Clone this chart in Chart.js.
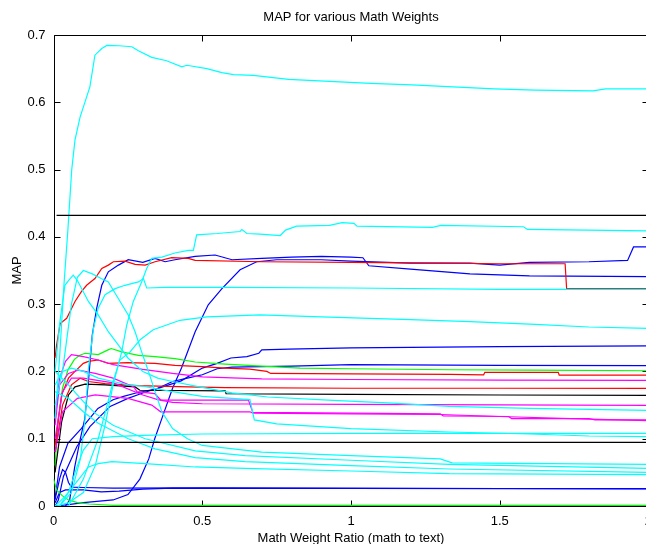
<!DOCTYPE html>
<html>
<head>
<meta charset="utf-8">
<script src="https://cdn.jsdelivr.net/npm/chart.js@4/dist/chart.umd.min.js"></script>
<style>
html,body{margin:0;padding:0;overflow:hidden;background:#fff;}
#wrap{width:670px;height:550px;}
</style>
</head>
<body>
<div id="wrap"><canvas id="c" width="670" height="550"></canvas></div>
<script>
// ---- axis ticks ----
const xTicks = [0, 0.5, 1, 1.5, 2];
const yTicks = [0, 0.1, 0.2, 0.3, 0.4, 0.5, 0.6, 0.7];

// ---- cyan series ----
const c1x = [0.005,0.02,0.035,0.048,0.061,0.072,0.089,0.106,0.122,0.139,0.162,0.179,0.22,0.263,0.285,0.33,0.38,0.431,0.448,0.515,0.566,0.605,0.672,0.79,0.928,1.066,1.205,1.343,1.482,1.62,1.814,1.856,2.0];
const c1y = [0.13,0.22,0.33,0.41,0.50,0.544,0.578,0.601,0.623,0.67,0.680,0.6845,0.684,0.6825,0.6765,0.6667,0.6617,0.6527,0.655,0.650,0.644,0.641,0.640,0.634,0.631,0.628,0.626,0.623,0.620,0.618,0.617,0.620,0.620];
const c2x = [0.01,0.05,0.1,0.14,0.173,0.2,0.229,0.246,0.268,0.296,0.313,0.33,0.364,0.408,0.453,0.47,0.481,0.55,0.627,0.633,0.65,0.694,0.762,0.78,0.817,0.928,0.97,1.01,1.02,1.274,1.302,1.58,1.593,2.0];
const c2y = [0.0,0.005,0.02,0.06,0.12,0.18,0.229,0.269,0.304,0.333,0.353,0.368,0.37,0.376,0.38,0.38,0.403,0.405,0.408,0.411,0.405,0.404,0.402,0.41,0.416,0.417,0.421,0.42,0.416,0.414,0.417,0.415,0.411,0.409];
const c3x = [0.02,0.06,0.09,0.106,0.117,0.134,0.15,0.173,0.207,0.24,0.285,0.302,0.313,0.375,0.577,1.0,1.5,2.0];
const c3y = [0.0,0.02,0.07,0.13,0.204,0.264,0.294,0.314,0.323,0.328,0.333,0.338,0.324,0.325,0.325,0.324,0.322,0.322];
const c4x = [0.05,0.1,0.15,0.18,0.2,0.223,0.257,0.291,0.335,0.38,0.425,0.515,0.694,0.9,1.2,1.4,1.62,1.8,2.0];
const c4y = [0.0,0.04,0.1,0.15,0.185,0.217,0.229,0.247,0.262,0.269,0.276,0.281,0.284,0.281,0.277,0.274,0.27,0.266,0.264];
const c5x = [0.005,0.02,0.038,0.05,0.066,0.08,0.117,0.15,0.184,0.218,0.25,0.3,0.35,0.4,0.49,0.6,0.72,0.94,1.14,1.33,1.6,2.0];
const c5y = [0.2,0.27,0.328,0.335,0.343,0.335,0.304,0.284,0.259,0.239,0.22,0.2,0.19,0.185,0.177,0.168,0.162,0.157,0.153,0.148,0.145,0.142];
const c6x = [0.005,0.03,0.06,0.08,0.1,0.13,0.16,0.184,0.218,0.251,0.274,0.296,0.319,0.341,0.364,0.4,0.45,0.5,0.7,1.0,1.3,1.34,2.0];
const c6y = [0.15,0.2,0.3,0.34,0.35,0.345,0.338,0.333,0.308,0.284,0.259,0.229,0.2,0.17,0.14,0.115,0.1,0.09,0.08,0.075,0.07,0.064,0.062];
const c7x = [0.005,0.03,0.06,0.1,0.15,0.2,0.25,0.3,0.4,0.5,0.66,0.675,0.75,1.0,1.33,1.6,1.8,2.0];
const c7y = [0.18,0.2,0.205,0.2,0.19,0.185,0.18,0.178,0.17,0.163,0.158,0.128,0.122,0.115,0.11,0.107,0.104,0.103];
const c8x = [0.02,0.05,0.08,0.1,0.13,0.2,0.3,0.5,1.0,1.5,2.0];
const c8y = [0.0,0.02,0.06,0.083,0.1,0.103,0.105,0.107,0.108,0.108,0.108];
const c9x = [0.005,0.05,0.1,0.139,0.2,0.308,0.476,0.644,1.0,1.33,2.0];
const c9y = [0.2,0.18,0.155,0.138,0.12,0.1,0.082,0.075,0.068,0.062,0.056];
const c10x = [0.005,0.05,0.1,0.15,0.251,0.341,0.476,0.644,1.0,1.33,2.0];
const c10y = [0.17,0.16,0.14,0.123,0.1,0.085,0.072,0.066,0.06,0.055,0.05];
const c11x = [0.005,0.038,0.083,0.117,0.15,0.196,0.308,0.476,0.644,1.0,1.33,2.0];
const c11y = [0.0,0.014,0.039,0.058,0.063,0.066,0.063,0.058,0.056,0.052,0.048,0.0465];

// ---- blue series ----
const b1x = [0.04,0.054,0.071,0.09,0.105,0.118,0.13,0.145,0.162,0.184,0.218,0.251,0.3,0.341,0.375,0.408,0.476,0.543,0.6,0.7,0.8,0.9,1.0,1.04,1.06,1.2,1.4,1.6,2.0];
const b1y = [0.0,0.009,0.058,0.1,0.13,0.19,0.254,0.294,0.328,0.348,0.358,0.366,0.362,0.368,0.363,0.366,0.371,0.373,0.366,0.368,0.37,0.371,0.37,0.369,0.357,0.352,0.345,0.342,0.341];
const b2x = [0.005,0.05,0.1,0.2,0.25,0.29,0.32,0.34,0.36,0.4,0.43,0.476,0.52,0.566,0.627,0.683,0.75,0.9,1.0,1.2,1.4,1.5,1.6,1.8,1.93,1.95,2.0];
const b2y = [0.0,0.002,0.005,0.009,0.017,0.04,0.07,0.1,0.125,0.175,0.205,0.259,0.299,0.323,0.351,0.363,0.366,0.366,0.364,0.361,0.361,0.358,0.362,0.363,0.365,0.385,0.385];
const b3x = [0.004,0.02,0.048,0.093,0.149,0.2,0.235,0.277,0.346,0.429,0.5,0.55,0.596,0.65,0.69,0.7,0.79,1.0,1.5,2.0];
const b3y = [0.009,0.058,0.093,0.115,0.145,0.158,0.163,0.168,0.174,0.186,0.205,0.212,0.22,0.222,0.227,0.232,0.233,0.235,0.237,0.238];
const b4x = [0.005,0.016,0.033,0.078,0.122,0.19,0.25,0.3,0.35,0.4,0.45,0.5,0.55,0.6,0.8,1.0,1.5,2.0];
const b4y = [0.0,0.009,0.044,0.088,0.118,0.148,0.16,0.168,0.175,0.185,0.19,0.195,0.204,0.2065,0.208,0.21,0.209,0.2085];
const b5x = [0.005,0.02,0.03,0.04,0.05,0.06,0.1,0.2,0.5,1.0,1.5,2.0];
const b5y = [0.01,0.04,0.054,0.05,0.035,0.028,0.0275,0.0265,0.027,0.0265,0.026,0.0257];
const b6x = [0.005,0.02,0.04,0.1,0.16,0.22,0.3,0.4,1.0,2.0];
const b6y = [0.005,0.02,0.024,0.024,0.021,0.022,0.025,0.0265,0.026,0.0255];

// ---- red series ----
const r1x = [0.005,0.01,0.022,0.044,0.072,0.094,0.111,0.139,0.162,0.184,0.201,0.24,0.274,0.308,0.341,0.397,0.453,0.476,0.7,1.0,1.3,1.5,1.72,1.725,2.0];
const r1y = [0.22,0.239,0.271,0.279,0.304,0.319,0.328,0.338,0.353,0.358,0.363,0.364,0.359,0.358,0.363,0.369,0.368,0.365,0.363,0.362,0.361,0.36,0.36,0.323,0.323];
const r2x = [0.005,0.027,0.05,0.072,0.1,0.117,0.15,0.184,0.25,0.341,0.408,0.5,0.577,0.66,0.717,0.73,1.0,1.334,1.446,1.45,1.697,1.7,2.0];
const r2y = [0.09,0.165,0.19,0.2,0.212,0.215,0.217,0.212,0.213,0.212,0.209,0.207,0.205,0.2035,0.2,0.197,0.1965,0.1955,0.195,0.1987,0.1987,0.1946,0.1946];
const r3x = [0.005,0.03,0.06,0.089,0.117,0.173,0.285,0.453,0.577,1.0,1.5,2.0];
const r3y = [0.08,0.15,0.18,0.19,0.185,0.182,0.179,0.177,0.176,0.175,0.175,0.1749];

// ---- green series ----
const g1x = [0.005,0.015,0.03,0.048,0.07,0.088,0.106,0.15,0.183,0.194,0.229,0.285,0.341,0.408,0.476,0.577,0.7,0.829,1.0,1.334,1.6,2.0];
const g1y = [0.06,0.128,0.175,0.202,0.218,0.224,0.227,0.225,0.232,0.234,0.229,0.224,0.222,0.219,0.214,0.211,0.208,0.205,0.204,0.2025,0.202,0.201];
const g2x = [0.0,0.01,0.03,0.05,0.08,0.12,0.2,2.0];
const g2y = [0.04,0.024,0.015,0.009,0.005,0.003,0.001,0.001];

// ---- black series ----
const k1x = [0.01,2.0];
const k1y = [0.432,0.432];
const k2x = [0.01,2.0];
const k2y = [0.0946,0.0946];
const k3x = [0.005,0.027,0.05,0.072,0.106,0.173,0.274,0.29,0.577,0.58,1.0,1.5,2.0];
const k3y = [0.05,0.125,0.165,0.177,0.181,0.18,0.177,0.172,0.171,0.1668,0.166,0.165,0.1645];

// ---- magenta series ----
const m1x = [0.005,0.02,0.04,0.06,0.1,0.15,0.2,0.3,0.4,0.5,0.7,1.0,1.5,2.0];
const m1y = [0.13,0.19,0.215,0.225,0.222,0.217,0.21,0.203,0.197,0.192,0.189,0.188,0.187,0.1867];
const m2x = [0.005,0.03,0.06,0.1,0.2,0.3,0.35,0.4,0.5,1.0,2.0];
const m2y = [0.1,0.17,0.19,0.19,0.183,0.165,0.158,0.154,0.152,0.151,0.1496];
const m3x = [0.005,0.02,0.05,0.083,0.14,0.2,0.27,0.28,0.34,0.36,0.655,0.67,1.0,1.3,1.31,1.53,1.54,1.8,1.82,2.0];
const m3y = [0.12,0.18,0.197,0.202,0.197,0.19,0.177,0.17,0.167,0.1575,0.1575,0.139,0.138,0.137,0.134,0.133,0.13,0.13,0.128,0.128];
const m4x = [0.005,0.03,0.08,0.14,0.25,0.33,0.36,0.66,0.67,1.0,1.3,1.5,1.8,2.0];
const m4y = [0.08,0.14,0.16,0.165,0.16,0.15,0.14,0.14,0.138,0.137,0.136,0.133,0.129,0.127];

const CYAN = '#00ffff', BLUE = '#0000ff', RED = '#ff0000', GREEN = '#00ff00', MAG = '#ff00ff', BLACK = '#000000';

const seriesList = [
  [k1x,k1y,BLACK],[k2x,k2y,BLACK],
  [c1x,c1y,CYAN],[c2x,c2y,CYAN],[c3x,c3y,CYAN],[c4x,c4y,CYAN],[c5x,c5y,CYAN],[c6x,c6y,CYAN],
  [c7x,c7y,CYAN],[c8x,c8y,CYAN],[c9x,c9y,CYAN],[c10x,c10y,CYAN],[c11x,c11y,CYAN],
  [m1x,m1y,MAG],[m2x,m2y,MAG],[m3x,m3y,MAG],[m4x,m4y,MAG],
  [k3x,k3y,BLACK],
  [r1x,r1y,RED],[r2x,r2y,RED],[r3x,r3y,RED],
  [g1x,g1y,GREEN],[g2x,g2y,GREEN],
  [b1x,b1y,BLUE],[b2x,b2y,BLUE],[b3x,b3y,BLUE],[b4x,b4y,BLUE],[b5x,b5y,BLUE],[b6x,b6y,BLUE]
];

const datasets = seriesList.map(([xs, ys, col]) => ({
  data: xs.map((x, i) => ({x: x, y: ys[i]})),
  borderColor: col,
  borderWidth: 1.2,
  pointRadius: 0,
  tension: 0,
  fill: false
}));

const FONT = 'Liberation Sans, Arial, Helvetica, sans-serif';

const framePlugin = {
  id: 'frame',
  beforeDatasetsDraw(chart) {
    const {ctx, chartArea, scales} = chart;
    const L = Math.round(chartArea.left) + 0.5, R = Math.round(chartArea.right) + 0.5;
    const T = Math.round(chartArea.top) + 0.5, B = Math.round(chartArea.bottom) + 0.5;
    ctx.save();
    ctx.strokeStyle = '#000';
    ctx.lineWidth = 1;
    ctx.beginPath();
    ctx.rect(L, T, R - L, B - T);
    const tl = 6;
    xTicks.forEach(v => {
      const px = Math.round(scales.x.getPixelForValue(v)) + 0.5;
      ctx.moveTo(px, B); ctx.lineTo(px, B - tl);
      ctx.moveTo(px, T); ctx.lineTo(px, T + tl);
    });
    yTicks.forEach(v => {
      const py = Math.round(scales.y.getPixelForValue(v)) + 0.5;
      ctx.moveTo(L, py); ctx.lineTo(L + tl, py);
      ctx.moveTo(R, py); ctx.lineTo(R - tl, py);
    });
    ctx.stroke();
    ctx.restore();
  }
};

new Chart(document.getElementById('c'), {
  type: 'line',
  data: {datasets: datasets},
  plugins: [framePlugin],
  options: {
    responsive: false,
    animation: false,
    devicePixelRatio: 1,
    layout: {padding: {left: 0, right: 21.6, top: 0, bottom: 0}},
    plugins: {
      legend: {display: false},
      tooltip: {enabled: false},
      title: {
        display: true,
        text: 'MAP for various Math Weights',
        fullSize: false,
        color: '#000',
        font: {family: FONT, size: 13, weight: 'normal'},
        padding: {top: 10, bottom: 9.4}
      }
    },
    scales: {
      x: {
        type: 'linear',
        min: 0, max: 2,
        afterFit(s) { s.height = 44; },
        afterBuildTicks(s) { s.ticks = xTicks.map(v => ({value: v})); },
        grid: {display: false, drawTicks: false},
        border: {display: false},
        ticks: {
          color: '#000', padding: 8, maxRotation: 0,
          font: {family: FONT, size: 13},
          callback: v => String(v)
        },
        title: {
          display: true, text: 'Math Weight Ratio (math to text)', color: '#000',
          font: {family: FONT, size: 13}, padding: {top: 0, bottom: 4}
        }
      },
      y: {
        min: 0, max: 0.7,
        afterFit(s) { s.width = 53.6; },
        afterBuildTicks(s) { s.ticks = yTicks.map(v => ({value: v})); },
        grid: {display: false, drawTicks: false},
        border: {display: false},
        ticks: {
          color: '#000', padding: 8,
          font: {family: FONT, size: 13},
          callback: v => String(Math.round(v * 10) / 10)
        },
        title: {
          display: true, text: 'MAP', color: '#000',
          font: {family: FONT, size: 13}, padding: {top: 9.5, bottom: 0}
        }
      }
    }
  }
});
</script>
</body>
</html>
